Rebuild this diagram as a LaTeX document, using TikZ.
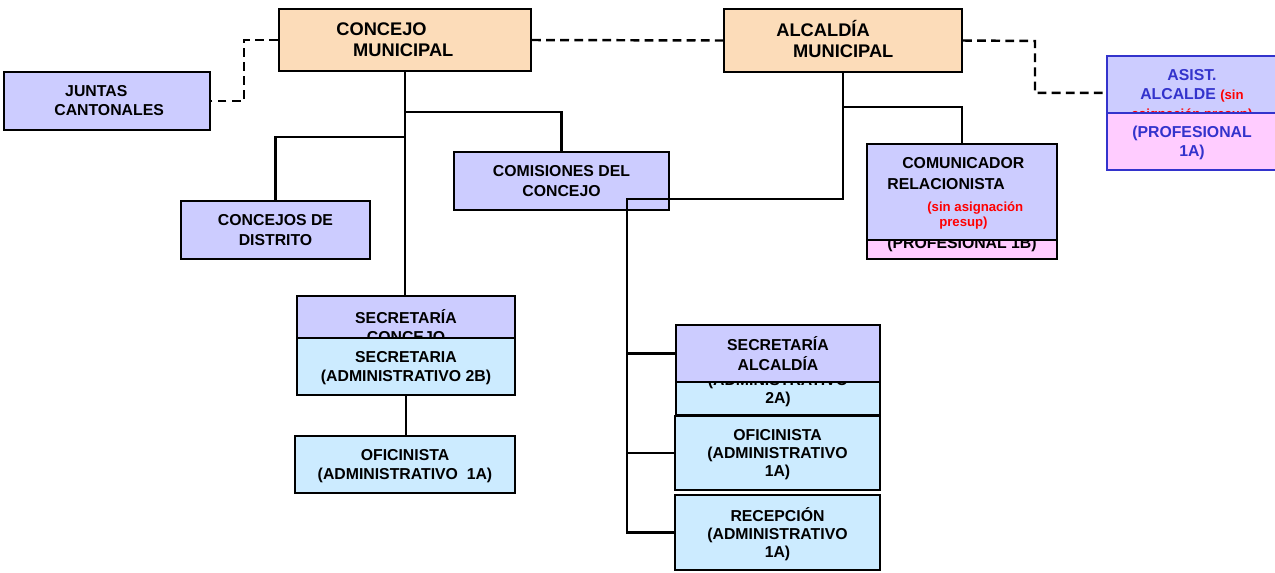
\documentclass[tikz,border=0pt]{standalone}
\usepackage{fontspec}
\setmainfont{Liberation Sans}
\definecolor{peach}{HTML}{FCDCB9}
\definecolor{lav}{HTML}{CCCCFF}
\definecolor{lblue}{HTML}{CCEBFF}
\definecolor{pinkb}{HTML}{FFCCFF}
\definecolor{bluet}{HTML}{3333CC}
\definecolor{redt}{HTML}{FF0000}
\begin{document}
\begin{tikzpicture}[x=0.02cm,y=-0.02cm,
 box/.style 2 args={draw=black, line width=1.25pt, inner sep=0pt, minimum width=#1*0.02cm, minimum height=#2*0.02cm, align=center, text depth=0pt, font=\bfseries\fontsize{9}{11}\selectfont},
 txt/.style={inner sep=0pt, align=left, font=\bfseries\fontsize{9}{10.8}\selectfont},
 big/.style={font=\bfseries\fontsize{10.4}{11.9}\selectfont},
 redsm/.style={text=redt, font=\bfseries\fontsize{7.5}{8.5}\selectfont},
 conn/.style={line width=1.3pt},
 dsh/.style={line width=1.4pt, dash pattern=on 5pt off 3pt},
]
\useasboundingbox (0,0) rectangle (1275,572);

% top level
\node[box={252}{62},fill=peach] (cm) at (405,40) {};
\node[txt,big,anchor=west] (cmt) at (336,40) {CONCEJO\\\hspace*{9.6pt}MUNICIPAL};
\node[box={238}{63},fill=peach] (am) at (843,40.5) {};
\node[txt,big,anchor=west] (amt) at (776,39) {ALCALDÍA\\\hspace*{9.6pt}MUNICIPAL};

\node[box={206}{58},fill=lav] (jc) at (107,101) {};
\node[txt,anchor=west] (jct) at (54,101) {\hspace*{6.2pt}JUNTAS\\CANTONALES};

% asistente
\node[box={170}{57},fill=lav,draw=bluet] (as) at (1192,84.5) {};
\node[txt,align=center,anchor=north,text=bluet] (ast) at (1192,69) {ASIST.\\ALCALDE {\color{redt}\fontsize{7.5}{9}\selectfont (sin}\\{\color{redt}\fontsize{7.5}{9}\selectfont asignación presup)}};
\node[box={170}{57},fill=pinkb,draw=bluet,text=bluet] (ap) at (1192,141.5) {(PROFESIONAL\\1A)};

% second level
\node[box={215}{58},fill=lav] (cd) at (561.5,181) {COMISIONES DEL\\CONCEJO};
\node[box={189}{58},fill=lav] (cdi) at (275.5,230) {CONCEJOS DE\\DISTRITO};

\node[box={190}{32},fill=pinkb] (cp) at (962,243) {(PROFESIONAL 1B)};
\node[box={190}{96},fill=lav] (com) at (962,192) {};
\node[txt,anchor=north west,font=\bfseries\fontsize{9}{11.9}\selectfont] (comt) at (887,157) {\hspace*{8.5pt}COMUNICADOR\\RELACIONISTA};
\node[txt,redsm,anchor=north west] (comr) at (927,201.5) {(sin asignación\\\hspace*{6.8pt}presup)};

% secretaria concejo
\node[box={218}{44},fill=lav] (scc) at (406,318) {};
\node[txt,align=center] (scct) at (406,326) {SECRETARÍA\\CONCEJO};
\node[box={218}{57},fill=lblue,font=\bfseries\fontsize{9}{11.3}\selectfont] (scb) at (406,366.5) {SECRETARIA\\(ADMINISTRATIVO 2B)};
\node[box={220}{57},fill=lblue] (ofl) at (405,464.5) {OFICINISTA\\(ADMINISTRATIVO\ \ 1A)};

% secretaria alcaldia
\node[box={204}{75},fill=lblue] (sab) at (778,377.5) {};
\node[txt,align=center,font=\bfseries\fontsize{9}{10.2}\selectfont] (sabt) at (778,390) {(ADMINISTRATIVO\\2A)};
\node[box={204}{57},fill=lav] (sa) at (778,353.5) {SECRETARÍA\\ALCALDÍA};
\node[box={205}{74},fill=lblue,font=\bfseries\fontsize{9}{10.2}\selectfont] (ofr) at (777.5,453) {OFICINISTA\\(ADMINISTRATIVO\\1A)};
\node[box={205}{75},fill=lblue,font=\bfseries\fontsize{9}{10.2}\selectfont] (rec) at (777.5,532.5) {RECEPCIÓN\\(ADMINISTRATIVO\\1A)};

% connectors
\coordinate (j1) at (405,112);
\coordinate (j2) at (405,137);
\coordinate (j3) at (843,199);
\coordinate (j4) at (627,199);
\coordinate (j6) at (843,107);
\coordinate (d1) at (244,40);
\coordinate (d2) at (1035,41);

\draw[conn] (cm.south) -- (cm.south |- scc.north);
\draw[conn] (j1) -| (cd.north);
\draw[conn] (j2) -| (cdi.north);
\draw[conn] (scb.south) -- (scb.south |- ofl.north);
\draw[conn] (am.south) -- (j3) -- (j4) |- (rec.west);
\draw[conn] (j4 |- sa.west) -- (sa.west);
\draw[conn] (j4 |- ofr.west) -- (ofr.west);
\draw[conn] (j6) -| (com.north);
\draw[dsh] (cm.west) -- (d1) |- (jc.east);
\draw[dsh] (cm.east) -- (am.west);
\draw[dsh] (am.east) -- (d2) |- ([yshift=-4.8pt]as.west);
\end{tikzpicture}
\end{document}
